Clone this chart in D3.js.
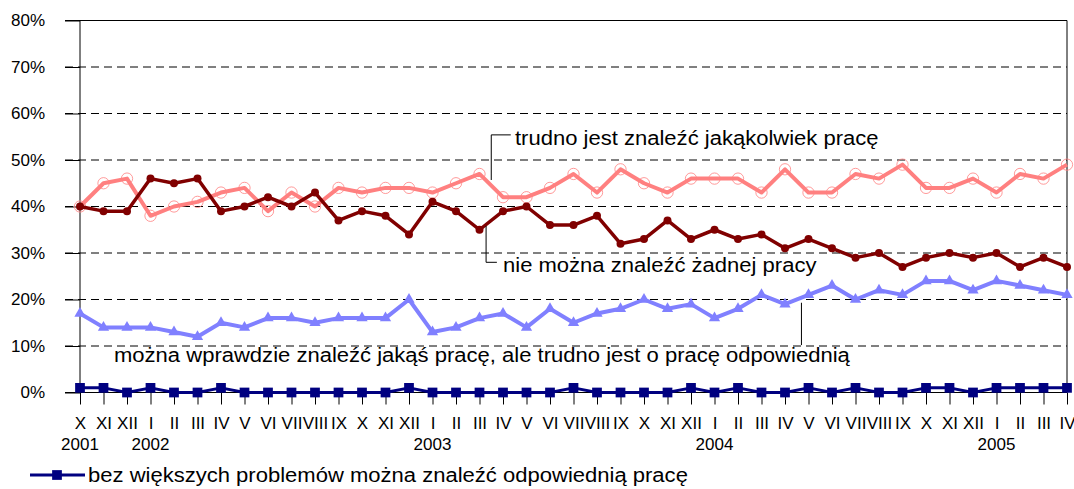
<!DOCTYPE html>
<html>
<head>
<meta charset="utf-8">
<script src="https://cdn.jsdelivr.net/npm/d3@7"></script>
<style>
  body { margin: 0; background: #fff; }
  text { font-family: "Liberation Sans", Arial, sans-serif; fill: #000; }
</style>
</head>
<body>
<svg id="chart" width="1074" height="489"></svg>
<script>
// month labels, Oct 2001 .. Apr 2005
const months = ["X","XI","XII",
  "I","II","III","IV","V","VI","VII","VIII","IX","X","XI","XII",
  "I","II","III","IV","V","VI","VII","VIII","IX","X","XI","XII",
  "I","II","III","IV","V","VI","VII","VIII","IX","X","XI","XII",
  "I","II","III","IV"]
const yearNames = ["2001","2002","2003","2004","2005"]
const yearStart = [0, 3, 15, 27, 39]   // index of the first month of each year

// series, in percent
const noJob = [40,39,39,46,45,46,39,40,42,40,43,37,39,38,34,41,39,35,39,40,36,36,38,32,33,37,33,35,33,34,31,33,31,29,30,27,29,30,29,30,27,29,27]
const anyJobHard = [40,45,46,38,40,41,43,44,39,43,40,44,43,44,44,43,45,47,42,42,44,47,43,48,45,43,46,46,46,43,48,43,43,47,46,49,44,44,46,43,47,46,49]
const suitableHard = [17,14,14,14,13,12,15,14,16,16,15,16,16,16,20,13,14,16,17,14,18,15,17,18,20,18,19,16,18,21,19,21,23,20,22,21,24,24,22,24,23,22,21]
const noProblem = [1,1,0,1,0,0,1,0,0,0,0,0,0,0,1,0,0,0,0,0,0,1,0,0,0,0,1,0,1,0,0,1,0,1,0,0,1,1,0,1,1,1,1]

const yTicks = [0, 10, 20, 30, 40, 50, 60, 70, 80]

const svg = d3.select("#chart")
const x = d3.scalePoint().domain(d3.range(months.length)).range([80, 1067])
const y = d3.scaleLinear().domain([0, 80]).range([392.5, 20.5])

// gridlines (dashed), including the outside tick part
svg.append("g")
  .selectAll("line")
  .data(yTicks.filter(d => d > 0 && d < 80))
  .join("line")
  .attr("x1", 65).attr("x2", 1067)
  .attr("y1", d => y(d)).attr("y2", d => y(d))
  .attr("stroke", "#000")
  .attr("stroke-dasharray", "8,5")

// frame: top and right
svg.append("path")
  .attr("d", `M65,${y(80)}H1067V${y(0)}`)
  .attr("fill", "none").attr("stroke", "#000")

// y axis
const yAxis = svg.append("g")
  .attr("transform", "translate(80,0)")
  .call(d3.axisLeft(y).tickValues(yTicks).tickSize(15).tickPadding(20).tickFormat(d => d + "%"))
yAxis.select(".domain").remove()
yAxis.selectAll("text").attr("font-size", 17).attr("font-family", null)
svg.append("line")
  .attr("x1", 80).attr("x2", 80)
  .attr("y1", y(80)).attr("y2", y(0))
  .attr("stroke", "#000")

// x axis
const xAxis = svg.append("g")
  .attr("transform", `translate(0,${y(0)})`)
  .call(d3.axisBottom(x).tickSize(12).tickPadding(12).tickFormat(i => months[i]))
xAxis.select(".domain").attr("d", `M65,0H1067`)
xAxis.selectAll("text").attr("font-size", 17).attr("font-family", null)

svg.append("g")
  .selectAll("text")
  .data(yearNames)
  .join("text")
  .attr("x", (d, k) => x(yearStart[k]))
  .attr("y", 450)
  .attr("text-anchor", "middle")
  .attr("font-size", 17)
  .text(d => d)

const line = d3.line().x((d, i) => x(i)).y(d => y(d))

function drawSeries(values, color, width, marker) {
  const g = svg.append("g")
  g.append("path")
    .datum(values)
    .attr("d", line)
    .attr("fill", "none")
    .attr("stroke", color)
    .attr("stroke-width", width)
    .attr("stroke-linejoin", "round")
  marker(g.selectAll(".m").data(values).join("path").attr("class", "m")
    .attr("transform", (d, i) => `translate(${x(i)},${y(d)})`))
}

drawSeries(anyJobHard, "#ff8080", 4, s => s
  .attr("d", d3.symbol(d3.symbolCircle, 100)())
  .attr("fill", "none").attr("stroke", "#ff8080").attr("stroke-width", 0.8))

drawSeries(noJob, "#800000", 3.5, s => s
  .attr("d", d3.symbol(d3.symbolCircle, 50)())
  .attr("fill", "#800000"))

drawSeries(suitableHard, "#8080ff", 4, s => s
  .attr("d", d3.symbol(d3.symbolTriangle, 55)())
  .attr("fill", "#8080ff"))

drawSeries(noProblem, "#000080", 3, s => s
  .attr("d", d3.symbol(d3.symbolSquare, 95)())
  .attr("fill", "#000080"))

// annotations: leader lines given in (index, percent)
function annotate(points, label, tx, ty) {
  svg.append("path")
    .attr("d", d3.line().x(p => x(0) + p[0] * x.step()).y(p => y(p[1]))(points))
    .attr("fill", "none").attr("stroke", "#000").attr("stroke-width", 1)
  svg.append("text")
    .attr("transform", `translate(${tx},${ty}) scale(1.13,1)`)
    .attr("font-size", 19.5)
    .text(label)
}

annotate([[17.5, 45.7], [17.5, 55.4], [18.33, 55.4]],
  "trudno jest znaleźć jakąkolwiek pracę", 515, 145)
annotate([[17.28, 35.8], [17.28, 28], [17.74, 28]],
  "nie można znaleźć żadnej pracy", 503, 272)
annotate([[30.7, 19.3], [30.7, 10.2]],
  "można wprawdzie znaleźć jakąś pracę, ale trudno jest o pracę odpowiednią", 114, 362)

// legend
const lg = svg.append("g").attr("transform", "translate(0,475)")
lg.append("line").attr("x1", 30).attr("x2", 85)
  .attr("stroke", "#000080").attr("stroke-width", 3)
lg.append("path").attr("transform", "translate(57,0)")
  .attr("d", d3.symbol(d3.symbolSquare, 95)()).attr("fill", "#000080")
lg.append("text")
  .attr("transform", "translate(88,7) scale(1.13,1)")
  .attr("font-size", 19.5)
  .text("bez większych problemów można znaleźć odpowiednią pracę")
</script>
</body>
</html>
